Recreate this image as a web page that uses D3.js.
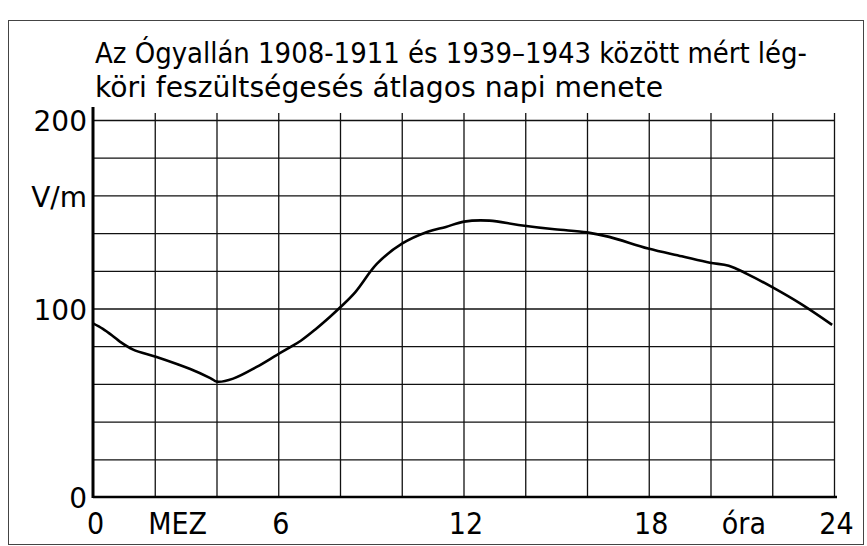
<!DOCTYPE html>
<html>
<head>
<meta charset="utf-8">
<script src="https://cdn.jsdelivr.net/npm/d3@7"></script>
<style>
  body { margin: 0; background: #fff; }
  svg { display: block; }
  .grid line { stroke: #111; stroke-width: 1.3; }
  .grid path { display: none; }
  .lbl text { fill: #000; font-family: "DejaVu Sans Condensed", "DejaVu Sans", sans-serif; font-stretch: condensed; }
  .lbl path, .lbl line { display: none; }
</style>
</head>
<body>
<div id="chart"></div>
<script>
// Hourly course (hours, MEZ) and field strength (V/m)
var hours = [0, 0.32, 0.65, 0.88, 1.3, 2.06, 3.15, 3.8, 4.02, 4.54, 5.3, 5.95, 6.39,
  6.73, 7.2, 7.67, 8.0, 8.49, 9.2, 10.02, 10.84, 11.43, 12.02, 12.84, 13.78, 14.95,
  16.0, 16.72, 17.98, 19.07, 19.98, 20.59, 21.18, 22.0, 22.94, 23.94];
var values = [92.1, 89.2, 85.3, 82.3, 78.2, 74.3, 67.9, 63.1, 61.2, 62.8, 69, 75.3, 79.5,
  82.9, 88.9, 95.5, 100.5, 108.6, 123.8, 134.5, 140.7, 143.3, 146.1, 146.6, 144.3, 142,
  140.4, 138, 131.8, 127.7, 124.3, 122.7, 118.4, 111.3, 102.3, 91.3];

// tick labels
var yTicks = [0, 100, 160, 200];
var yTickText = { 0: "0", 100: "100", 160: "V/m", 200: "200" };
var xTicks = [0, 2.66, 6, 12, 18, 21, 24];
var xTickText = { 0: "0", 2.66: "MEZ", 6: "6", 12: "12", 18: "18", 21: "óra", 24: "24" };

var titleLines = [
  "Az Ógyallán 1908-1911 és 1939–1943 között mért lég-",
  "köri feszültségesés átlagos napi menete"
];

var svgWidth = 867;
var svgHeight = 546;

var plot = { left: 93, right: 834, top: 120, bottom: 497 };

var svg = d3.select("#chart")
  .append("svg")
  .attr("width", svgWidth)
  .attr("height", svgHeight);

// outer frame
svg.append("rect")
  .attr("x", 8.5)
  .attr("y", 20.5)
  .attr("width", 855)
  .attr("height", 524)
  .attr("fill", "none")
  .attr("stroke", "#444")
  .attr("stroke-width", 1);

var x = d3.scaleLinear().domain([0, 24]).range([plot.left, plot.right]);
var y = d3.scaleLinear().domain([0, 200]).range([plot.bottom, plot.top]);

// horizontal grid
svg.append("g")
  .attr("class", "grid")
  .attr("transform", `translate(${plot.left}, 0)`)
  .call(d3.axisLeft(y)
    .tickValues(d3.range(20, 201, 20))
    .tickSize(-(plot.right - plot.left + 1))
    .tickFormat(""));

// vertical grid
svg.append("g")
  .attr("class", "grid")
  .attr("transform", `translate(0, ${plot.bottom})`)
  .call(d3.axisBottom(x)
    .tickValues(d3.range(2, 25, 2))
    .tickSize(-(plot.bottom - plot.top + 7))
    .tickFormat(""));

// heavy axis lines
svg.append("line")
  .attr("x1", x(0)).attr("x2", x(0))
  .attr("y1", plot.top - 13).attr("y2", plot.bottom + 1)
  .attr("stroke", "#000").attr("stroke-width", 3);

svg.append("line")
  .attr("x1", x(0)).attr("x2", x(24) + 3)
  .attr("y1", y(0)).attr("y2", y(0))
  .attr("stroke", "#000").attr("stroke-width", 2.5);

// y labels
var yLbl = svg.append("g")
  .attr("class", "lbl")
  .attr("transform", `translate(${plot.left}, 2)`)
  .call(d3.axisLeft(y)
    .tickValues(yTicks)
    .tickSize(0)
    .tickPadding(6)
    .tickFormat(d => yTickText[d]));
yLbl.selectAll("text")
  .style("font-family", "'DejaVu Sans', sans-serif")
  .style("font-stretch", "normal")
  .attr("font-size", 28);

// x labels
var xLbl = svg.append("g")
  .attr("class", "lbl")
  .attr("transform", `translate(2, ${plot.bottom})`)
  .call(d3.axisBottom(x)
    .tickValues(xTicks)
    .tickSize(0)
    .tickPadding(16)
    .tickFormat(d => xTickText[d]));
xLbl.selectAll("text")
  .attr("font-size", 30);

// curve
var line = d3.line()
  .x((d, i) => x(hours[i]))
  .y(d => y(d))
  .curve(d3.curveCatmullRom);

svg.append("path")
  .datum(values)
  .attr("d", line)
  .attr("fill", "none")
  .attr("stroke", "#000")
  .attr("stroke-width", 2.6)
  .attr("stroke-linejoin", "round");

// title
var titleWidths = [712, 568];
svg.append("g")
  .selectAll("text")
  .data(titleLines)
  .enter()
  .append("text")
  .attr("x", 95)
  .attr("y", (d, i) => 63 + i * 34)
  .attr("font-family", "'DejaVu Sans Condensed', 'DejaVu Sans', sans-serif")
  .attr("font-stretch", "condensed")
  .attr("font-size", 28)
  .attr("textLength", (d, i) => titleWidths[i])
  .attr("lengthAdjust", "spacingAndGlyphs")
  .text(d => d);
</script>
</body>
</html>
